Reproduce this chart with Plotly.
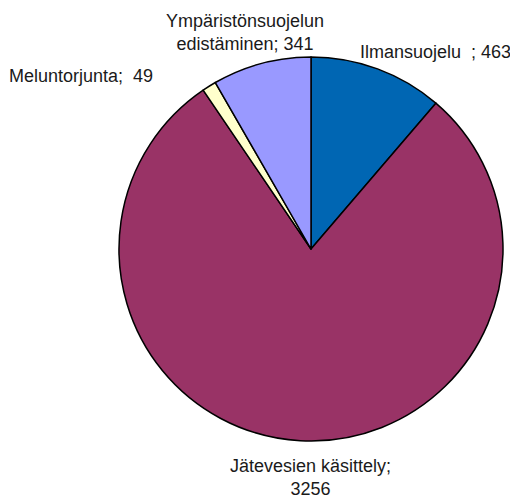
import plotly.graph_objects as go

labels = ["Ilmansuojelu", "Jätevesien käsittely", "Meluntorjunta", "Ympäristönsuojelun edistäminen"]
values = [463, 3256, 49, 341]
colors = ["#0066B3", "#993366", "#FFFFCC", "#9999FF"]
label_texts = ["Ilmansuojelu  ; 463", "Jätevesien käsittely;<br>3256", "Meluntorjunta;  49", "Ympäristönsuojelun<br>edistäminen; 341"]

OFF = 8  # page body margin
W, H = 518 - OFF, 500 - OFF
cx, cy, r = 311 - OFF, 249 - OFF, 192

fig = go.Figure(go.Pie(
    labels=labels, values=values, sort=False, direction="clockwise", rotation=0,
    marker=dict(colors=colors, line=dict(color="#000000", width=1.5)),
    textinfo="none", hoverinfo="label+value", showlegend=False,
    domain=dict(x=[(cx-r)/W, (cx+r)/W], y=[1-(cy+r)/H, 1-(cy-r)/H]),
))

pos = [
    (358, 52, "left"),
    (310, 477, "center"),
    (7, 76, "left"),
    (245, 32, "center"),
]
for (x, y, al), t in zip(pos, label_texts):
    fig.add_annotation(x=(x-OFF)/W, y=1-(y-OFF)/H, xref="paper", yref="paper", text=t, showarrow=False,
                       xanchor=al, yanchor="middle", align="center",
                       font=dict(family="Liberation Sans, Arial", size=18, color="#1a1a1a"))

fig.update_layout(width=W, height=H, margin=dict(l=0, r=0, t=0, b=0),
                  paper_bgcolor="white", plot_bgcolor="white")
fig.write_html("out.html")
